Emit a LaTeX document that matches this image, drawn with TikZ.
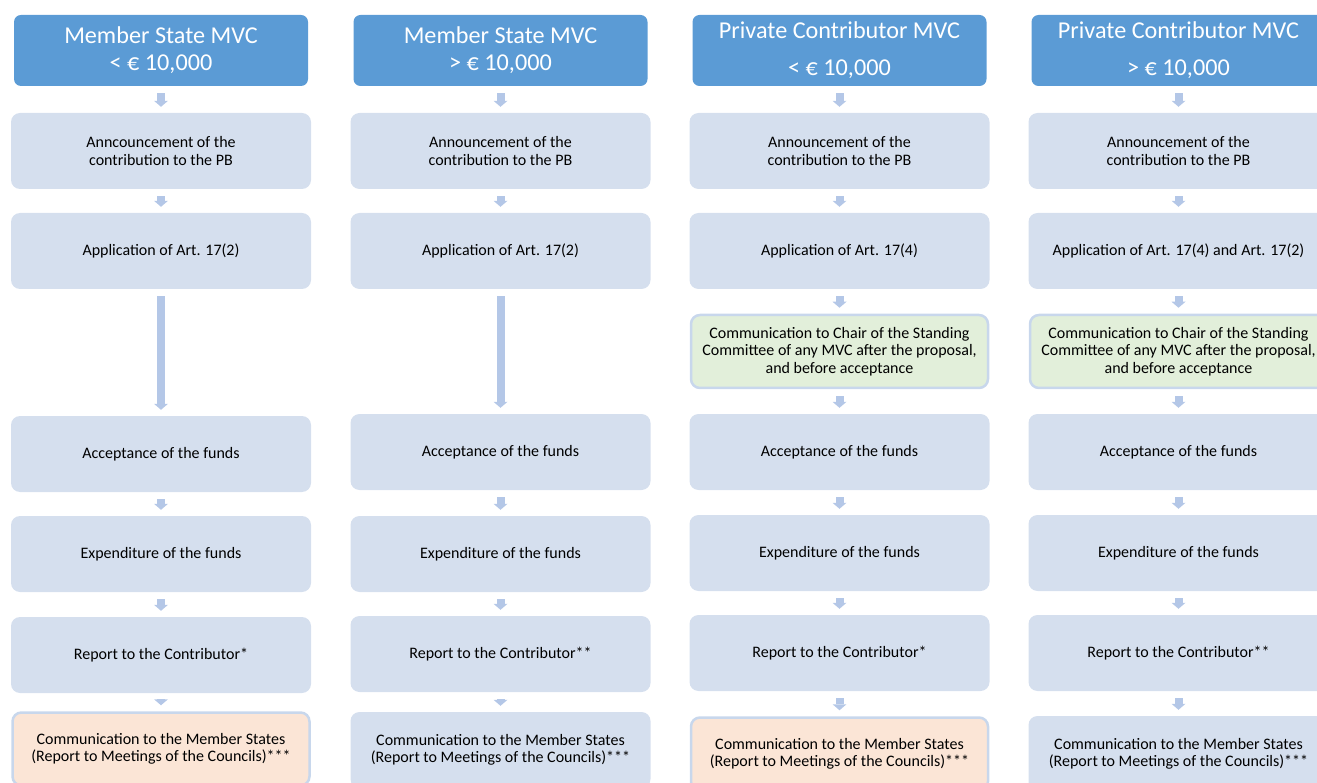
\documentclass[tikz,border=0pt]{standalone}
\usepackage{fontspec}
\setmainfont{Carlito}
\usetikzlibrary{arrows.meta}
\definecolor{hdrblue}{HTML}{5B9BD5}
\definecolor{boxblue}{HTML}{D5DFEE}
\definecolor{arrblue}{HTML}{B4C7E7}
\definecolor{boxgreen}{HTML}{E2EFDA}
\definecolor{boxpeach}{HTML}{FBE5D6}
\definecolor{rimblue}{HTML}{C8D7EC}
\tikzset{
  hdr/.style={rectangle, rounded corners=7, fill=hdrblue, text=white, minimum width=294, minimum height=71, align=center, inner sep=0, font=\fontsize{24.2}{27}\selectfont},
  hdrwide/.style={hdr, font=\fontsize{24.2}{37}\selectfont},
  stepbox/.style={rectangle, rounded corners=9, fill=boxblue, minimum width=300, minimum height=76, align=center, inner sep=0, font=\fontsize{16}{17.5}\selectfont},
  greenbox/.style={stepbox, fill=boxgreen, draw=rimblue, line width=2.5, minimum width=297, minimum height=73},
  peachbox/.style={stepbox, fill=boxpeach, draw=rimblue, line width=2.5, minimum width=297, minimum height=73},
  flow/.style={draw=arrblue, line width=8, -{Triangle[width=14pt,length=6pt,line width=0pt]}, shorten <=7, shorten >=6}
}
\begin{document}
\begin{tikzpicture}[x=1pt,y=-1pt]
\useasboundingbox (0,0) rectangle (1317,783);
\clip (0,0) rectangle (1317,783);
% member state, below 10,000
\node[hdr] (c1h) at (161,50.5) {Member State MVC\\< € 10,000};
\node[stepbox] (c1a) at (161,151) {Anncouncement of the\\contribution to the PB};
\node[stepbox] (c1b) at (161,251) {Application of Art. 17(2)};
\node[stepbox] (c1c) at (161,454) {Acceptance of the funds};
\node[stepbox] (c1d) at (161,554) {Expenditure of the funds};
\node[stepbox] (c1e) at (161,655) {Report to the Contributor*};
\node[peachbox] (c1f) at (161,749) {Communication to the Member States\\(Report to Meetings of the Councils)***};
\draw[flow] (c1h) -- (c1a);
\draw[flow] (c1a) -- (c1b);
\draw[flow] (c1b) -- (c1c);
\draw[flow] (c1c) -- (c1d);
\draw[flow] (c1d) -- (c1e);
\draw[flow] (c1e) -- (c1f);
% member state, above 10,000
\node[hdr] (c2h) at (500.5,50.5) {Member State MVC\\> € 10,000};
\node[stepbox] (c2a) at (500.5,151) {Announcement of the\\contribution to the PB};
\node[stepbox] (c2b) at (500.5,251) {Application of Art. 17(2)};
\node[stepbox] (c2c) at (500.5,452) {Acceptance of the funds};
\node[stepbox] (c2d) at (500.5,554) {Expenditure of the funds};
\node[stepbox] (c2e) at (500.5,654) {Report to the Contributor**};
\node[stepbox] (c2f) at (500.5,750) {Communication to the Member States\\(Report to Meetings of the Councils)***};
\draw[flow] (c2h) -- (c2a);
\draw[flow] (c2a) -- (c2b);
\draw[flow] (c2b) -- (c2c);
\draw[flow] (c2c) -- (c2d);
\draw[flow] (c2d) -- (c2e);
\draw[flow] (c2e) -- (c2f);
% private contributor, below 10,000
\node[hdrwide] (c3h) at (839.5,50.5) {Private Contributor MVC\\< € 10,000};
\node[stepbox] (c3a) at (839.5,151) {Announcement of the\\contribution to the PB};
\node[stepbox] (c3b) at (839.5,251) {Application of Art. 17(4)};
\node[greenbox] (c3g) at (839.5,351.5) {Communication to Chair of the Standing\\Committee of any MVC after the proposal,\\and before acceptance};
\node[stepbox] (c3c) at (839.5,452) {Acceptance of the funds};
\node[stepbox] (c3d) at (839.5,553) {Expenditure of the funds};
\node[stepbox] (c3e) at (839.5,653) {Report to the Contributor*};
\node[peachbox] (c3f) at (839.5,754) {Communication to the Member States\\(Report to Meetings of the Councils)***};
\draw[flow] (c3h) -- (c3a);
\draw[flow] (c3a) -- (c3b);
\draw[flow] (c3b) -- (c3g);
\draw[flow] (c3g) -- (c3c);
\draw[flow] (c3c) -- (c3d);
\draw[flow] (c3d) -- (c3e);
\draw[flow] (c3e) -- (c3f);
% private contributor, above 10,000
\node[hdrwide] (c4h) at (1178.5,50.5) {Private Contributor MVC\\> € 10,000};
\node[stepbox] (c4a) at (1178.5,151) {Announcement of the\\contribution to the PB};
\node[stepbox] (c4b) at (1178.5,251) {Application of Art. 17(4) and Art. 17(2)};
\node[greenbox] (c4g) at (1178.5,351.5) {Communication to Chair of the Standing\\Committee of any MVC after the proposal,\\and before acceptance};
\node[stepbox] (c4c) at (1178.5,452) {Acceptance of the funds};
\node[stepbox] (c4d) at (1178.5,553) {Expenditure of the funds};
\node[stepbox] (c4e) at (1178.5,653) {Report to the Contributor**};
\node[stepbox] (c4f) at (1178.5,754) {Communication to the Member States\\(Report to Meetings of the Councils)***};
\draw[flow] (c4h) -- (c4a);
\draw[flow] (c4a) -- (c4b);
\draw[flow] (c4b) -- (c4g);
\draw[flow] (c4g) -- (c4c);
\draw[flow] (c4c) -- (c4d);
\draw[flow] (c4d) -- (c4e);
\draw[flow] (c4e) -- (c4f);
\end{tikzpicture}
\end{document}
